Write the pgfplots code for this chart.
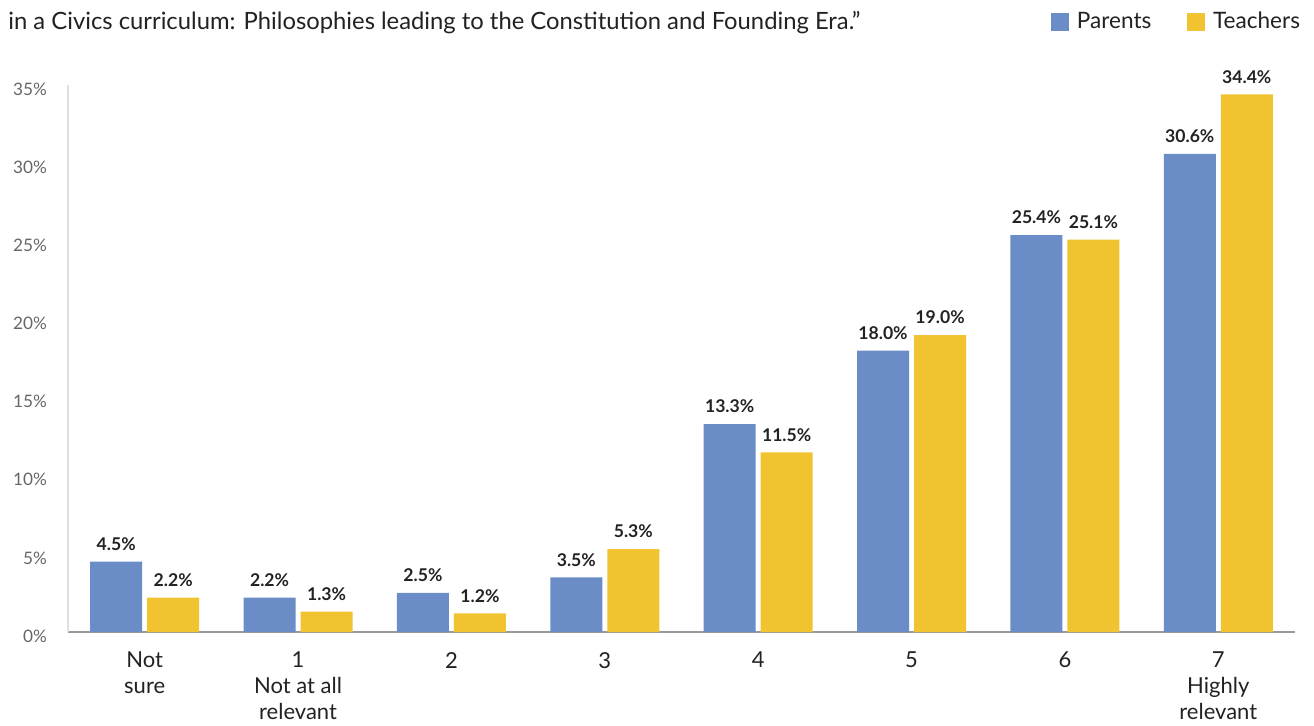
\documentclass[border=0pt]{standalone}
\usepackage{pgfplots}
\pgfplotsset{compat=1.18}
\usepackage{fontspec}
\setmainfont{Lato}
\definecolor{cPar}{HTML}{6A8CC7}
\definecolor{cTea}{HTML}{F2C331}
\definecolor{cTxt}{HTML}{222222}
\definecolor{cTick}{HTML}{666666}
\begin{document}
\begin{tikzpicture}
\path[use as bounding box] (-34pt,-46.5pt) rectangle (623pt,316pt);
\node[anchor=base west, inner sep=0pt, text=cTxt, font=\fontsize{11.9}{14}\selectfont] at (-30pt,301.5pt)
 {in a Civics curriculum: Philosophies leading to the Constitution and Founding Era.''};
\begin{axis}[
  at={(0,0)}, anchor=south west,
  scale only axis, width=613.5pt, height=273.5pt,
  ybar=2.5pt, bar width=26pt,
  xmin=-0.5, xmax=7.5, ymin=0, ymax=35,
  enlarge y limits=false,
  axis x line*=bottom, axis y line*=left,
  x axis line style={draw=black!40, line width=0.8pt, -},
  y axis line style={draw=black!12, line width=0.8pt, -},
  major tick length=0pt,
  xtick={0,...,7},
  xticklabels={{Not\\sure},{1\\Not at all\\relevant},2,3,4,5,6,{7\\Highly\\relevant}},
  xticklabel style={align=center, font=\fontsize{11}{13}\selectfont, text=cTxt, yshift=-6.5pt},
  ytick={0,5,...,35},
  yticklabel={\pgfmathprintnumber{\tick}\%},
  yticklabel style={font=\fontsize{8.6}{10}\selectfont, text=cTick, xshift=-7pt, yshift=-2pt},
  /pgf/number format/assume math mode=true,
  clip=false,
  nodes near coords={\pgfmathprintnumber[fixed,fixed zerofill,precision=1]{\pgfplotspointmeta}\%},
  nodes near coords style={font=\bfseries\fontsize{8.8}{10}\selectfont, text=cTxt, anchor=south, yshift=2pt},
  legend columns=2,
  legend style={draw=none, fill=none, at={(1.011,1.115)}, anchor=east,
    font=\fontsize{11.3}{13}\selectfont, text=cTxt, inner sep=0pt,
    /tikz/every odd column/.append style={column sep=0pt},
    /tikz/every even column/.append style={column sep=14pt},
    nodes={inner xsep=4pt}},
  legend image code/.code={\fill[#1] (0pt,-4.3pt) rectangle (8.8pt,4.5pt);},
]
\addplot[fill=cPar, draw=none] coordinates {(0,4.5) (1,2.2) (2,2.5) (3,3.5) (4,13.3) (5,18.0) (6,25.4) (7,30.6)};
\addlegendentry{Parents}
\addplot[fill=cTea, draw=none] coordinates {(0,2.2) (1,1.3) (2,1.2) (3,5.3) (4,11.5) (5,19.0) (6,25.1) (7,34.4)};
\addlegendentry{Teachers}
\end{axis}
\end{tikzpicture}
\end{document}
